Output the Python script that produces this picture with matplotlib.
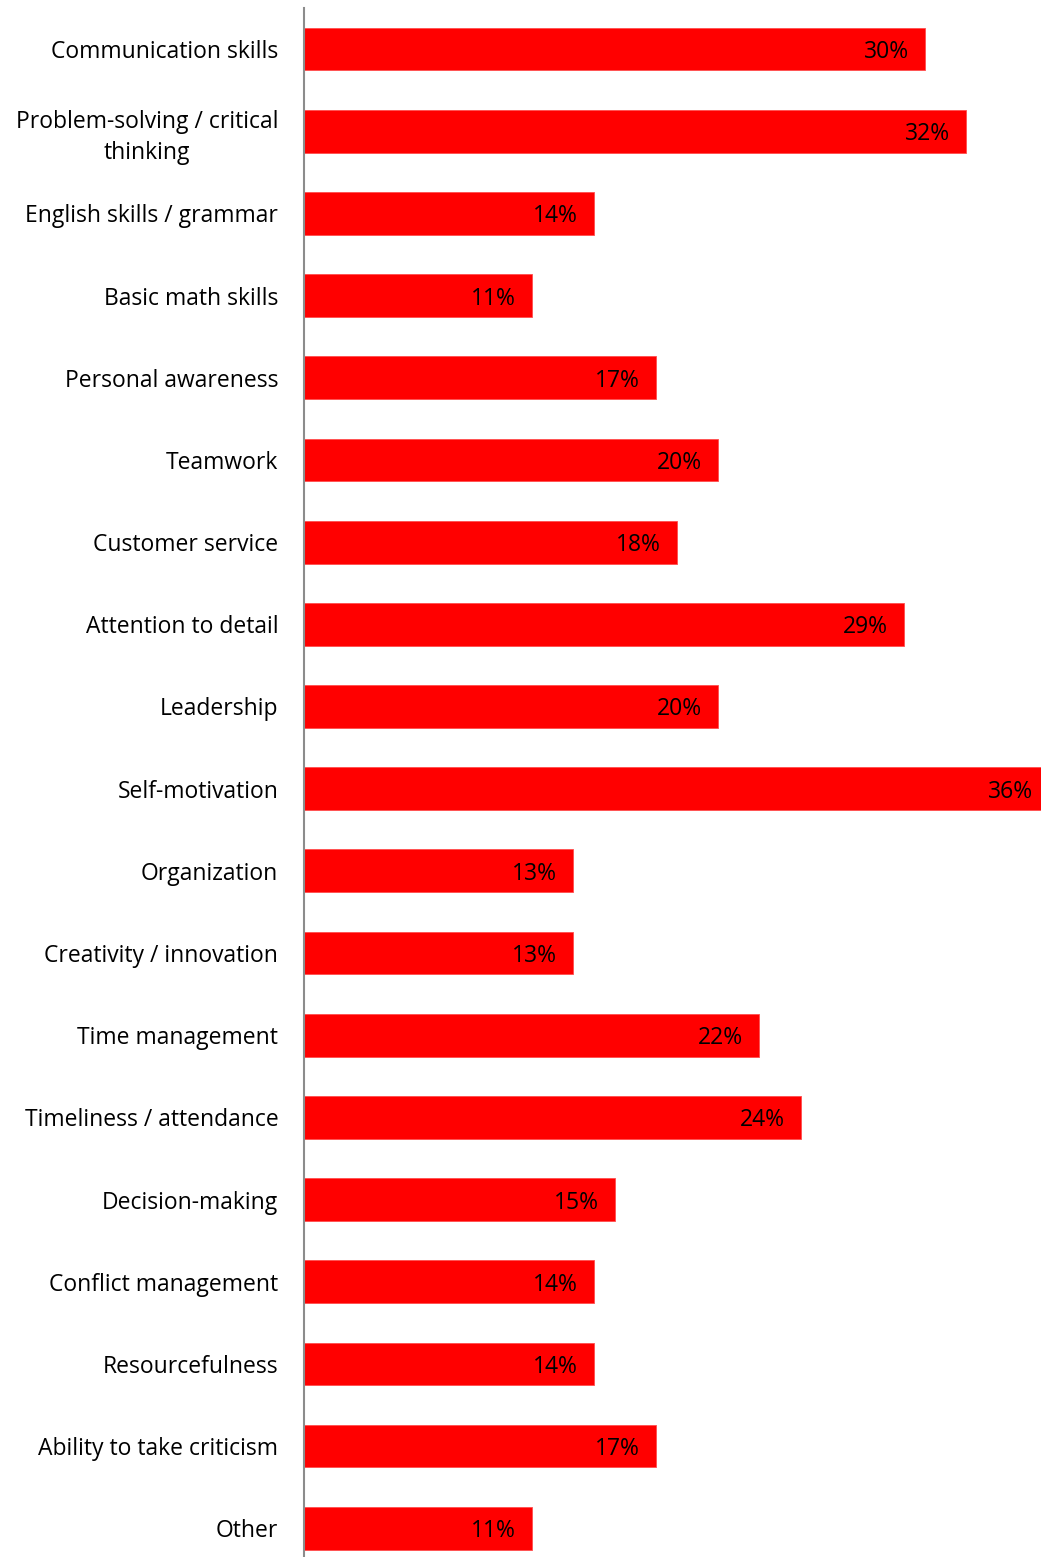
import matplotlib.pyplot as plt

# survey results: share of respondents naming each skill
skills = [
    "Communication skills",
    "Problem-solving / critical\nthinking",
    "English skills / grammar",
    "Basic math skills",
    "Personal awareness",
    "Teamwork",
    "Customer service",
    "Attention to detail",
    "Leadership",
    "Self-motivation",
    "Organization",
    "Creativity / innovation",
    "Time management",
    "Timeliness / attendance",
    "Decision-making",
    "Conflict management",
    "Resourcefulness",
    "Ability to take criticism",
    "Other",
]
percent = [30, 32, 14, 11, 17, 20, 18, 29, 20, 36, 13, 13, 22, 24, 15, 14, 14, 17, 11]

plt.rcParams['font.family'] = ['Open Sans', 'DejaVu Sans']

fig = plt.figure(figsize=(10.41, 15.57), dpi=100)
ax = fig.add_axes([304 / 1041, 0, 1 - 304 / 1041, 1 - 8 / 1557])

pos = list(range(len(skills)))
bars = ax.barh(pos, percent, height=0.52, color='#ff0000', edgecolor='#ff4d4d', linewidth=0.6)

for b, v in zip(bars, percent):
    ax.annotate(f"{v}%", xy=(v, b.get_y() + b.get_height() / 2),
                xytext=(-16, -3), textcoords='offset pixels',
                ha='right', va='center', fontsize=16.5, color='black',
                annotation_clip=False, clip_on=True)

ax.set_xlim(0, 35.6)
ax.set_ylim(18.35, -0.5)
ax.set_yticks(pos)
ax.set_yticklabels(skills, fontsize=16.5)
ax.tick_params(axis='y', length=0, pad=18.5)
# two-line labels: centred lines, block right-aligned to the axis
for lbl in ax.get_yticklabels():
    lbl.set_horizontalalignment('right')
    lbl.set_multialignment('center')
    lbl.set_linespacing(1.35)
ax.set_xticks([])

for s in ['top', 'right', 'bottom']:
    ax.spines[s].set_visible(False)
ax.spines['left'].set_color('#8c8c8c')
ax.spines['left'].set_linewidth(1.5)
ax.spines['left'].set_zorder(3)

fig.savefig('out.png', dpi=100)
